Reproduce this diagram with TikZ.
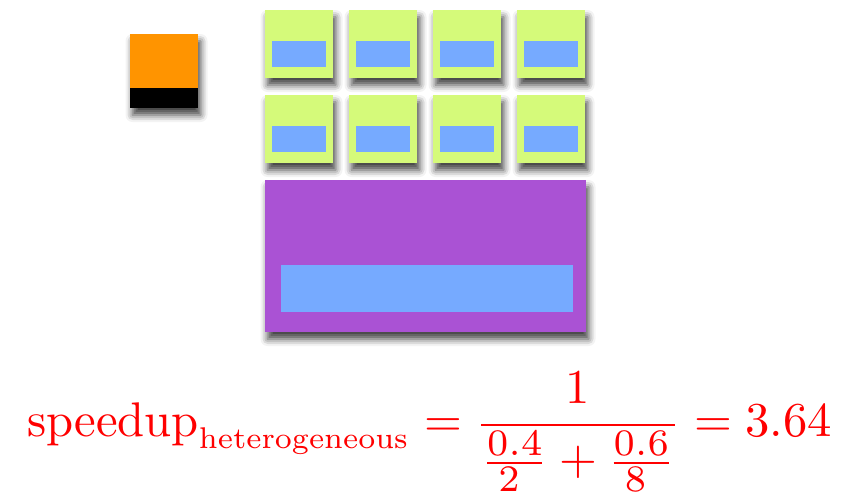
\documentclass[tikz,border=0pt]{standalone}
\usepackage{graphicx}
\usetikzlibrary{shadows.blur}

\definecolor{bigorange}{RGB}{255,148,0}
\definecolor{coregreen}{RGB}{213,250,122}
\definecolor{unitblue}{RGB}{118,170,255}
\definecolor{gpupurple}{RGB}{170,82,212}
\newcommand{\sm}[1]{\scalebox{1.1}{$\scriptstyle #1$}}

\begin{document}
\begin{tikzpicture}[x=0.02cm,y=-0.02cm,
  shade/.style={blur shadow={shadow xshift=0.05cm,shadow yshift=-0.14cm,
    shadow blur radius=0.14cm,shadow opacity=75}}]
\useasboundingbox (0,0) rectangle (844,498);
\def\w{68}
% big core
\fill[bigorange,shade] (130,34) rectangle ++(\w,74);
\fill[black] (130,88) rectangle ++(\w,20);
% small cores
\foreach \c in {0,...,3}
  \foreach \r in {0,1} {
    \fill[coregreen,shade] ({265+84*\c},{10+85*\r}) rectangle ++(\w,\w);
    \fill[unitblue] ({272+84*\c},{41+85*\r}) rectangle ++(54,26);
  }
% gpu
\fill[gpupurple,shade] (265,180) rectangle (586,332);
\fill[unitblue] (281,265) rectangle (573,312);
\node[red,inner sep=0] (eq) at (429.5,432) {\resizebox{16.1cm}{!}{$\displaystyle
  \mathrm{speedup}_{\scalebox{0.88}{$\scriptstyle\mathrm{heterogeneous}$}}
  = \frac{1}{\frac{\sm{0.4}}{\sm{2}}+\frac{\sm{0.6}}{\sm{8}}} = 3.64$}};
\end{tikzpicture}
\end{document}
